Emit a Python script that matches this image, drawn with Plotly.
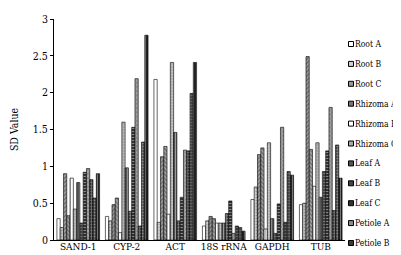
import plotly.graph_objects as go

genes = ["SAND-1", "CYP-2", "ACT", "18S rRNA", "GAPDH", "TUB"]
series_names = ["Root A", "Root B", "Root C", "Rhizoma A", "Rhizoma B", "Rhizoma C",
                "Leaf A", "Leaf B", "Leaf C", "Petiole A", "Petiole B", "Petiole C", "Total"]

# values per gene, in series order
sand1 = [0.29, 0.17, 0.90, 0.33, 0.84, 0.42, 0.78, 0.23, 0.92, 0.97, 0.82, 0.57, 0.90]
cyp2 = [0.32, 0.26, 0.48, 0.57, 0.10, 1.60, 0.98, 0.39, 1.53, 2.19, 0.19, 1.33, 2.78]
act = [2.18, 0.24, 1.13, 1.27, 0.35, 2.41, 1.46, 0.26, 0.58, 1.22, 1.21, 1.99, 2.41]
rrna18s = [0.19, 0.26, 0.32, 0.29, 0.23, 0.23, 0.23, 0.36, 0.53, 0.09, 0.19, 0.17, 0.12]
gapdh = [0.55, 0.72, 1.16, 1.25, 0.15, 1.32, 0.29, 0.09, 0.49, 1.53, 0.24, 0.93, 0.88]
tub = [0.48, 0.50, 2.49, 1.23, 0.73, 1.32, 0.58, 0.93, 1.21, 1.80, 0.40, 1.29, 0.84]

y_ticks = [0, 0.5, 1, 1.5, 2, 2.5, 3]
y_ticktext = ["0", "0.5", "1", "1.5", "2", "2.5", "3"]

table = [sand1, cyp2, act, rrna18s, gapdh, tub]

styles = [
    ("white", "", "black"),
    ("#d0d0d0", ".", "#555555"),
    ("#9a9a9a", "/", "#222222"),
    ("#777777", "\\", "#eeeeee"),
    ("white", "|", "#888888"),
    ("#a8a8a8", ".", "#eeeeee"),
    ("#555555", "|", "#dddddd"),
    ("#444444", "+", "#dddddd"),
    ("#333333", "-", "#dddddd"),
    ("#8a8a8a", "x", "#eeeeee"),
    ("#3a3a3a", "+", "#cccccc"),
    ("#404040", ".", "#dddddd"),
    ("#222222", "|", "#cccccc"),
]

FONT = "DejaVu Serif Condensed, Liberation Serif, serif"

W, H = 401, 255
ML, MR, MT, MB = 46, 64, 11, 23
PW, PH = W - ML - MR, H - MT - MB

fig = go.Figure()
for i, name in enumerate(series_names):
    bg, shape, fg = styles[i]
    fig.add_trace(go.Bar(
        x=genes,
        y=[row[i] for row in table],
        name=name,
        showlegend=False,
        marker=dict(
            color=bg,
            line=dict(color="black", width=0.6),
            pattern=dict(shape=shape, fgcolor=fg, bgcolor=bg, size=3, solidity=0.35),
        ),
    ))

# Manual legend (only the entries visible in the reference window)
def px_x(p):
    return (p - ML) / PW

def px_y(p):
    return (H - MB - p) / PH

shapes = []
annotations = []
for k in range(11):
    bg, shape, fg = styles[k]
    cy = 36 + 19.9 * k
    shapes.append(dict(
        type="rect", xref="paper", yref="paper",
        x0=px_x(340.5), x1=px_x(345.5), y0=px_y(cy + 2.5), y1=px_y(cy - 2.5),
        fillcolor=bg,
        line=dict(color="black", width=1),
    ))
    annotations.append(dict(
        xref="paper", yref="paper", x=px_x(346), y=px_y(cy),
        xanchor="left", yanchor="middle", showarrow=False, borderpad=0,
        text=series_names[k],
        font=dict(family=FONT, size=8.5, color="black"),
    ))

fig.update_layout(
    width=W, height=H,
    margin=dict(l=ML, r=MR, t=MT, b=MB, autoexpand=False),
    paper_bgcolor="white", plot_bgcolor="white",
    barmode="group", bargap=0.12, bargroupgap=0,
    font=dict(family=FONT, size=10, color="black"),
    showlegend=False,
    shapes=shapes,
    annotations=annotations,
    xaxis=dict(
        showline=True, linecolor="black", linewidth=1, tickangle=0, automargin=False,
        ticks="", tickfont=dict(family=FONT, size=10),
        showgrid=False, ticklabelstandoff=-3,
    ),
    yaxis=dict(
        range=[0, 3], tickvals=y_ticks, ticktext=y_ticktext, automargin=False,
        showline=True, linecolor="black", linewidth=1,
        ticks="outside", ticklen=3, tickcolor="black", showgrid=False, zeroline=False,
        tickfont=dict(family=FONT, size=10.5),
        title=dict(text="SD Value", font=dict(family=FONT, size=10.5), standoff=12),
    ),
)

fig.write_html("out.html")
